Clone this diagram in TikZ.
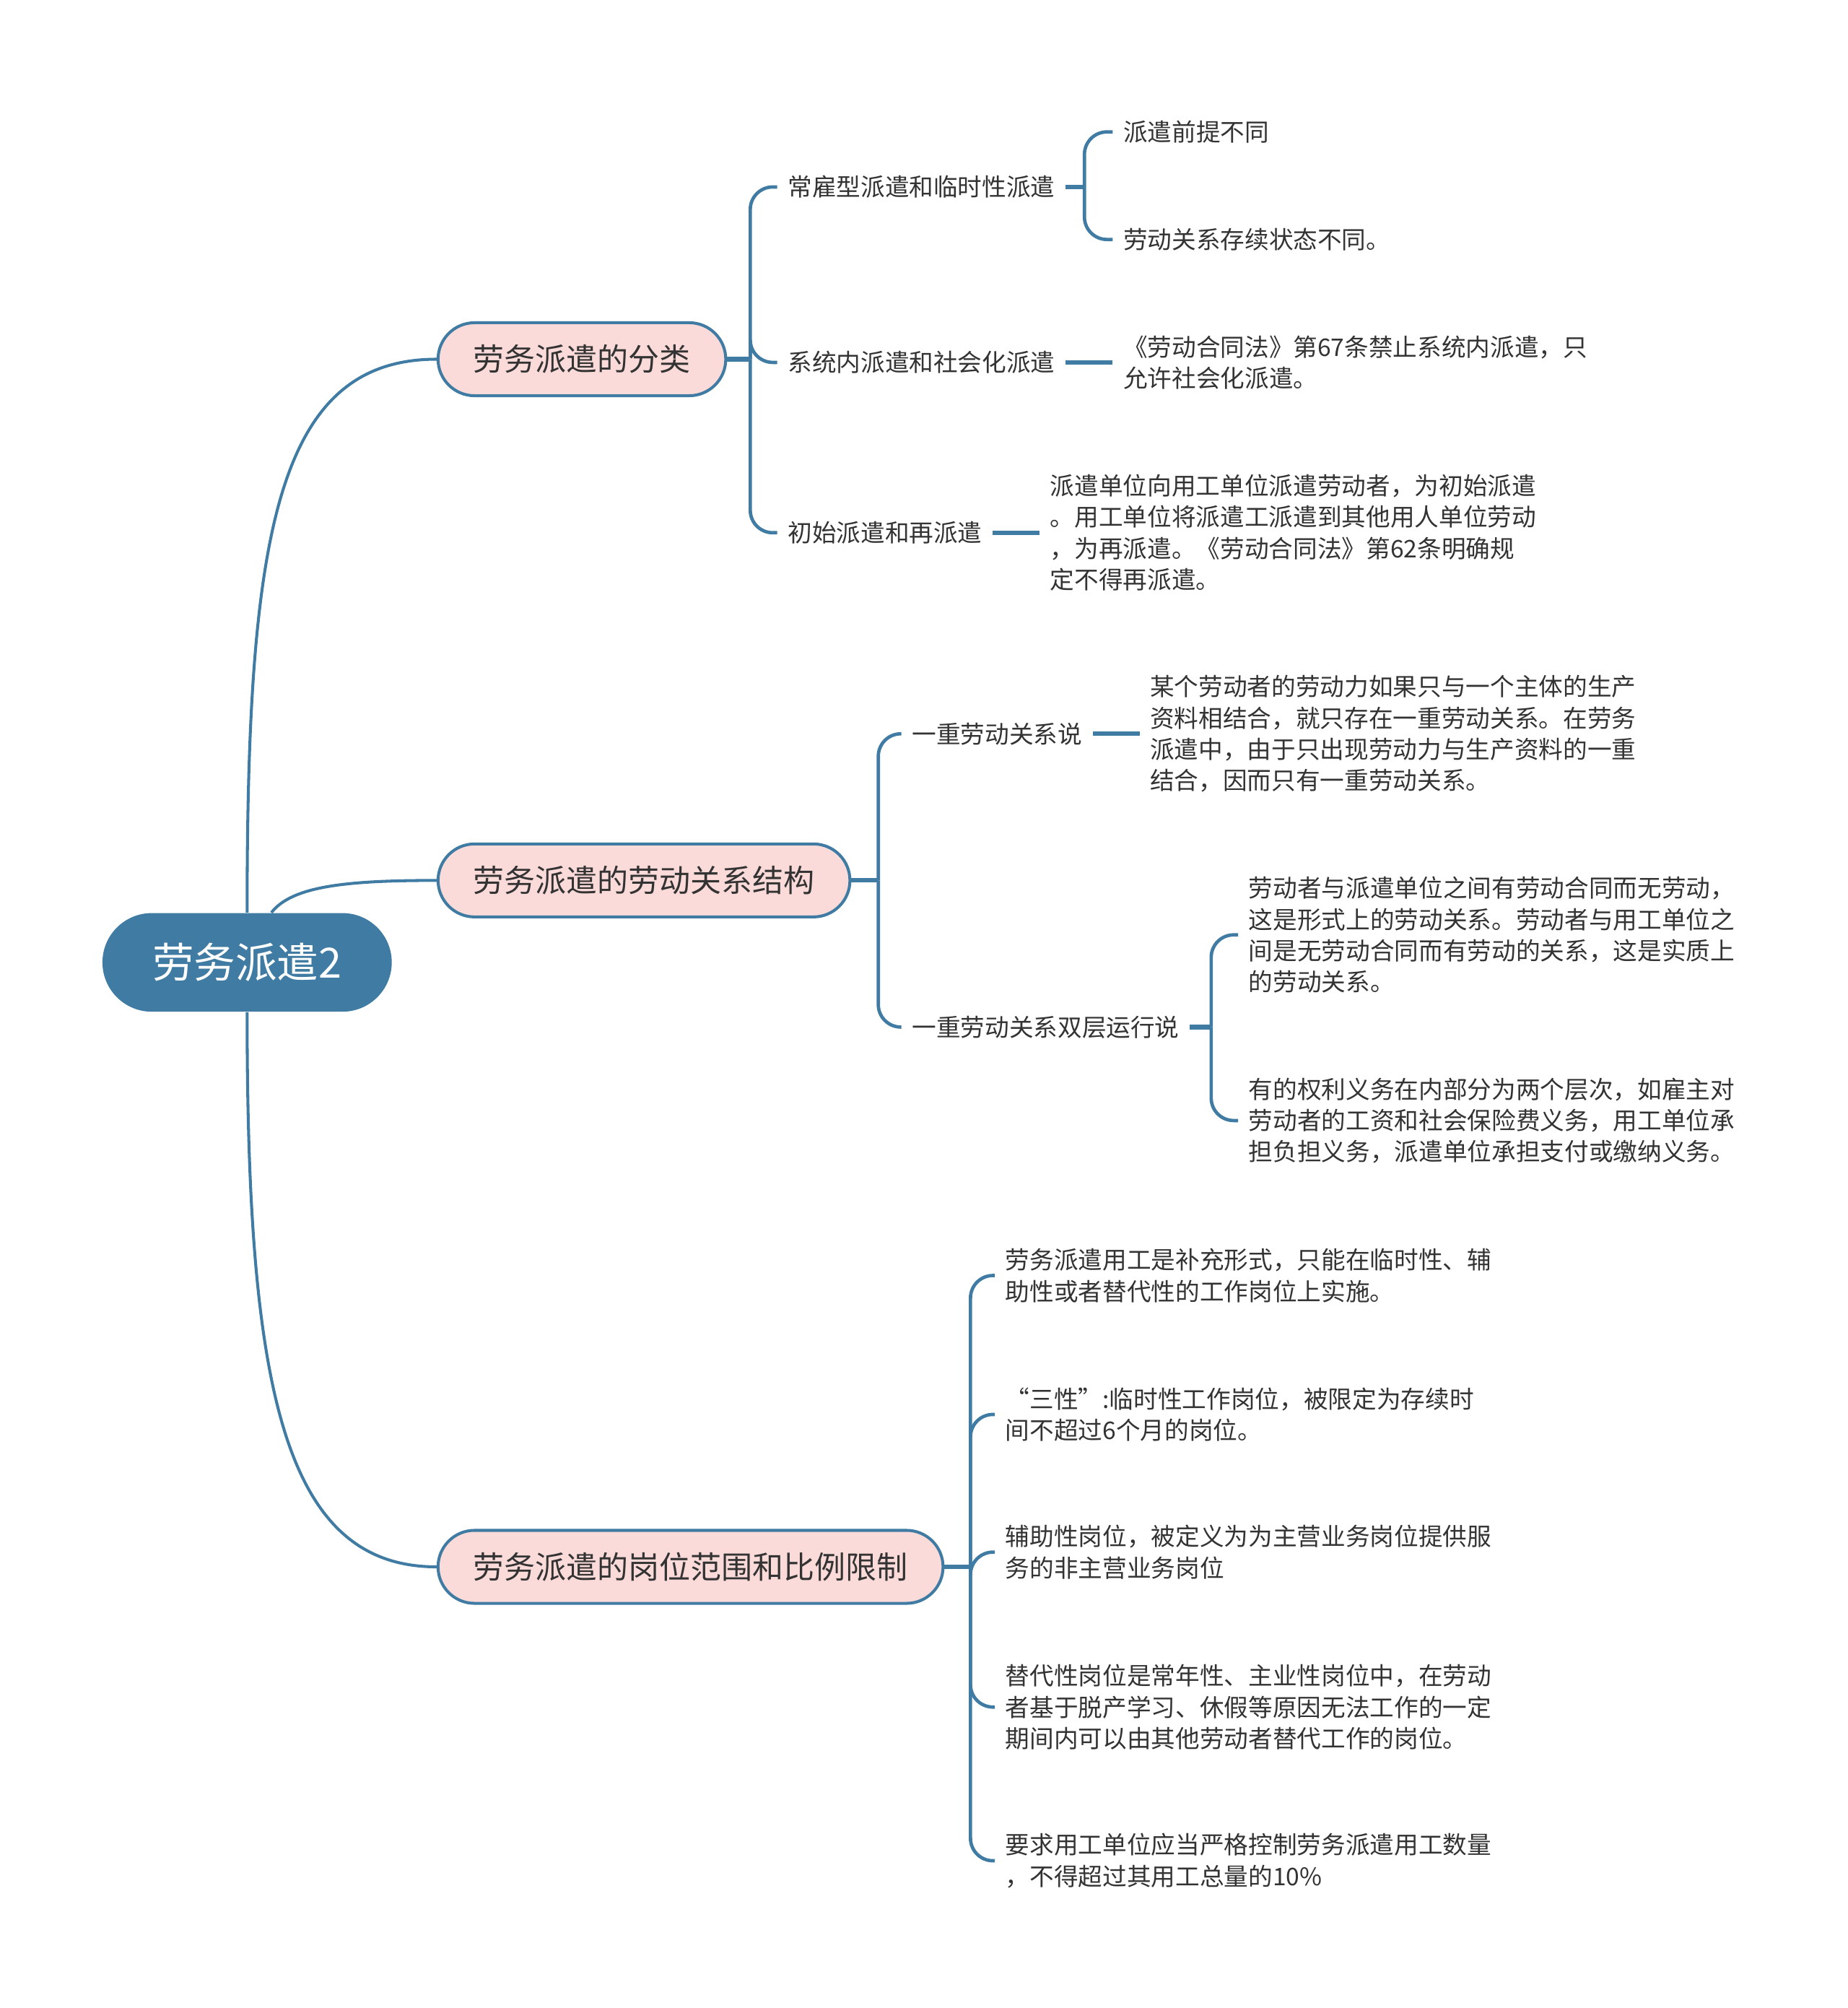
\documentclass[tikz,border=0pt]{standalone}
\usepackage{fontspec}
\newfontfamily\cjk{Noto Sans CJK SC}
\definecolor{linkblue}{HTML}{3F7BA2}
\definecolor{topicpink}{HTML}{FADBD9}
\definecolor{inkgray}{HTML}{333333}
\tikzset{
  root/.style={rectangle, rounded corners=0.77cm, fill=linkblue, text=white, minimum width=4.52cm, minimum height=1.54cm, font=\cjk\fontsize{18.5}{22}\selectfont},
  topic/.style={rectangle, rounded corners=0.57cm, draw=linkblue, line width=1.3pt, fill=topicpink, text=inkgray, minimum height=1.14cm, inner xsep=0.55cm, font=\cjk\fontsize{13.8}{16}\selectfont},
  sub/.style={inner xsep=0.16cm, inner ysep=2pt, text=inkgray, font=\cjk\fontsize{10.8}{13.9}\selectfont},
  leaf/.style={sub, align=left},
  link/.style={draw=linkblue, line width=1.3pt},
  stub/.style={draw=linkblue, line width=2pt},
  elbow/.style={draw=linkblue, line width=1.5pt, rounded corners=10pt}
}

\begin{document}
\begin{tikzpicture}[x=0.02cm, y=-0.02cm]
  \useasboundingbox (0,0) rectangle (1443,1568);
  \node[root] (root) at (193,751.5) {劳务派遣2};
  \node[topic, anchor=west] (b1) at (341,280.5) {劳务派遣的分类};
  \node[topic, anchor=west] (b2) at (341,687.5) {劳务派遣的劳动关系结构};
  \node[topic, anchor=west] (b3) at (341,1223.5) {劳务派遣的岗位范围和比例限制};
  \draw[link] (root.north) .. controls (193,420) and (215,280.5) .. (b1.west);
  \draw[link] (root.64) .. controls (228,692) and (270,687.5) .. (b2.west);
  \draw[link] (root.south) .. controls (193,1080) and (220,1223.5) .. (b3.west);

  \node[sub, anchor=west] (c11) at (607,146) {常雇型派遣和临时性派遣};
  \node[sub, anchor=west] (c12) at (607,283) {系统内派遣和社会化派遣};
  \node[sub, anchor=west] (c13) at (607,416) {初始派遣和再派遣};
  \draw[stub] (b1.east) -- (586,280.5) coordinate (j1);
  \draw[elbow] (j1) |- (c11.west);
  \draw[elbow] (j1) |- (c12.west);
  \draw[elbow] (j1) |- (c13.west);

  \node[sub, anchor=west] (l111) at (869,103) {派遣前提不同};
  \node[sub, anchor=west] (l112) at (869,187) {劳动关系存续状态不同。};
  \draw[stub] (c11.east) -- (847,146) coordinate (j11);
  \draw[elbow] (j11) |- (l111.west);
  \draw[elbow] (j11) |- (l112.west);
  \node[leaf, anchor=west] (l12) at (869,283) {《劳动合同法》第67条禁止系统内派遣，只\\允许社会化派遣。};
  \draw[stub] (c12.east) -- (l12.west);
  \node[leaf, anchor=west] (l13) at (812,416) {派遣单位向用工单位派遣劳动者，为初始派遣\\。用工单位将派遣工派遣到其他用人单位劳动\\，为再派遣。《劳动合同法》第62条明确规\\定不得再派遣。};
  \draw[stub] (c13.east) -- (l13.west);

  \node[sub, anchor=west] (c21) at (704,573) {一重劳动关系说};
  \node[sub, anchor=west] (c22) at (704,802) {一重劳动关系双层运行说};
  \draw[stub] (b2.east) -- (686,687.5) coordinate (j2);
  \draw[elbow] (j2) |- (c21.west);
  \draw[elbow] (j2) |- (c22.west);
  \node[leaf, anchor=west] (l21) at (890,573) {某个劳动者的劳动力如果只与一个主体的生产\\资料相结合，就只存在一重劳动关系。在劳务\\派遣中，由于只出现劳动力与生产资料的一重\\结合，因而只有一重劳动关系。};
  \draw[stub] (c21.east) -- (l21.west);
  \node[leaf, anchor=west] (l221) at (967,730) {劳动者与派遣单位之间有劳动合同而无劳动，\\这是形式上的劳动关系。劳动者与用工单位之\\间是无劳动合同而有劳动的关系，这是实质上\\的劳动关系。};
  \node[leaf, anchor=west] (l222) at (967,875) {有的权利义务在内部分为两个层次，如雇主对\\劳动者的工资和社会保险费义务，用工单位承\\担负担义务，派遣单位承担支付或缴纳义务。};
  \draw[stub] (c22.east) -- (946,802) coordinate (j22);
  \draw[elbow] (j22) |- (l221.west);
  \draw[elbow] (j22) |- (l222.west);

  \node[leaf, anchor=west] (l31) at (777,996) {劳务派遣用工是补充形式，只能在临时性、辅\\助性或者替代性的工作岗位上实施。};
  \node[leaf, anchor=west] (l32) at (777,1104.5) {“三性”:临时性工作岗位，被限定为存续时\\间不超过6个月的岗位。};
  \node[leaf, anchor=west] (l33) at (777,1212) {辅助性岗位，被定义为为主营业务岗位提供服\\务的非主营业务岗位};
  \node[leaf, anchor=west] (l34) at (777,1333) {替代性岗位是常年性、主业性岗位中，在劳动\\者基于脱产学习、休假等原因无法工作的一定\\期间内可以由其他劳动者替代工作的岗位。};
  \node[leaf, anchor=west] (l35) at (777,1453) {要求用工单位应当严格控制劳务派遣用工数量\\，不得超过其用工总量的10\%};
  \draw[stub] (b3.east) -- (758,1223.5) coordinate (j3);
  \foreach \leafname in {l31,l32,l33,l34,l35}
    \draw[elbow] (j3) |- (\leafname.west);
\end{tikzpicture}
\end{document}
